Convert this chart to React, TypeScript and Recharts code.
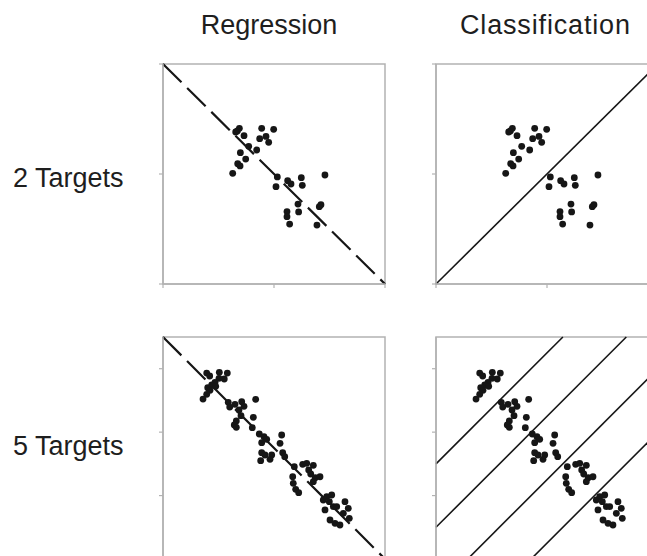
import React from "react";
import { ScatterChart, Scatter, XAxis, YAxis, ReferenceLine, ReferenceArea } from "recharts";

// two targets: one cloud on each side of the boundary
const TWO_X = [
  0.67, 0.688, 0.655, 0.73, 0.889, 0.997, 0.871, 0.928, 0.952, 0.772, 0.844, 0.697, 0.745, 0.673, 0.694, 0.628,
  1.03, 1.018, 1.123, 1.153, 1.246, 1.255, 1.459, 1.216, 1.222, 1.117, 1.117, 1.141, 1.408, 1.423, 1.387,
];
const TWO_Y = [
  1.391, 1.415, 1.382, 1.348, 1.415, 1.406, 1.321, 1.342, 1.288, 1.252, 1.218, 1.194, 1.136, 1.094, 1.073, 1.006,
  0.973, 0.885, 0.939, 0.909, 0.967, 0.897, 0.991, 0.727, 0.655, 0.658, 0.612, 0.545, 0.703, 0.721, 0.536,
];

// five targets: five clouds along the diagonal
const FIVE_X = [
  0.689, 0.736, 0.888, 1.014, 0.966, 0.883, 0.82, 0.768, 0.705, 0.741, 0.689, 0.631, 0.831,
  1.029, 1.052, 1.135, 1.241, 1.277, 1.198, 1.23, 1.156, 1.124, 1.156, 1.461, 1.424, 1.408,
  1.518, 1.592, 1.635, 1.556, 1.871, 1.845, 1.556, 1.608, 1.714, 1.687, 1.54, 1.887, 1.919,
  2.07, 2.202, 2.266, 2.37, 2.297, 2.329, 2.401, 2.475, 2.37, 2.045, 2.054, 2.092, 2.139,
  2.527, 2.581, 2.66, 2.622, 2.685, 2.554, 2.633, 2.712, 2.79, 2.869, 2.921, 2.843, 2.937, 2.739,
];
const FIVE_Y = [
  2.932, 2.885, 2.943, 2.932, 2.838, 2.849, 2.786, 2.743, 2.701, 2.66, 2.597, 2.522, 2.723,
  2.47, 2.396, 2.439, 2.48, 2.407, 2.349, 2.259, 2.176, 2.113, 2.076, 2.518, 2.234, 2.07,
  1.971, 1.928, 1.887, 1.834, 1.955, 1.824, 1.676, 1.64, 1.64, 1.572, 1.55, 1.676, 1.613,
  1.455, 1.493, 1.509, 1.477, 1.403, 1.34, 1.282, 1.297, 1.219, 1.297, 1.193, 1.099, 1.045,
  0.93, 0.982, 1.009, 0.903, 0.825, 0.773, 0.615, 0.563, 0.536, 0.903, 0.799, 0.72, 0.642, 0.825,
];

const TWO_MAX = 2;
const FIVE_MAX = 3.5;
const TWO_TICKS = [0, 1, 2];
const FIVE_TICKS = [0, 1, 2, 3];
// class boundaries as offsets of y = x + c
const TWO_BOUNDARIES = [0];
const FIVE_BOUNDARIES = [1.5, 0.5, -0.5, -1.5];

const zip = (xs: number[], ys: number[]) => xs.map((x, i) => ({ x, y: ys[i] }));
const twoPoints = zip(TWO_X, TWO_Y);
const fivePoints = zip(FIVE_X, FIVE_Y);

const FONT = "'Liberation Sans', Arial, sans-serif";
const BORDER = "#b2b2b2";
const INK = "#161616";
const PAD = 10;
const AXIS = 1; // axes need a non-zero size or recharts skips them

const Dot = (p: any) => <circle cx={p.cx} cy={p.cy} r={3.4} fill={INK} />;
// tick marks only, no labels
const NoLabel = () => <g />;

type PanelProps = {
  points: { x: number; y: number }[];
  max: number;
  ticks: number[];
  kind: "regression" | "classification";
  boundaries: number[];
  left: number;
  top: number;
  w: number;
  h: number;
};

const Panel = ({ points, max, ticks, kind, boundaries, left, top, w, h }: PanelProps) => {
  const segments =
    kind === "regression"
      ? [[{ x: 0, y: max }, { x: max, y: 0 }]]
      : boundaries.map((c) =>
          c >= 0
            ? [{ x: 0, y: c }, { x: max - c, y: max }]
            : [{ x: -c, y: 0 }, { x: max, y: max + c }]
        );

  return (
    <div style={{ position: "absolute", left: left - PAD, top: top - PAD }}>
      <ScatterChart
        width={w + 2 * PAD}
        height={h + 2 * PAD}
        margin={{ top: PAD, right: PAD, bottom: PAD - AXIS, left: PAD - AXIS }}
      >
        <XAxis
          type="number"
          dataKey="x"
          domain={[0, max]}
          ticks={ticks}
          allowDataOverflow
          height={AXIS}
          tick={NoLabel}
          tickSize={4}
          tickLine={{ stroke: BORDER, strokeWidth: 1.2 }}
          axisLine={{ stroke: BORDER, strokeWidth: 1.5 }}
        />
        <YAxis
          type="number"
          dataKey="y"
          domain={[0, max]}
          ticks={ticks}
          allowDataOverflow
          width={AXIS}
          tick={NoLabel}
          tickSize={4}
          tickLine={{ stroke: BORDER, strokeWidth: 1.2 }}
          axisLine={{ stroke: BORDER, strokeWidth: 1.5 }}
        />
        <ReferenceArea
          x1={0}
          x2={max}
          y1={0}
          y2={max}
          ifOverflow="visible"
          fill="none"
          fillOpacity={0}
          stroke={BORDER}
          strokeWidth={1.5}
        />
        {segments.map((s, i) => (
          <ReferenceLine
            key={i}
            segment={s}
            stroke={INK}
            strokeWidth={kind === "regression" ? 2.2 : 1.6}
            strokeDasharray={kind === "regression" ? "26 8" : undefined}
          />
        ))}
        <Scatter data={points} isAnimationActive={false} shape={Dot} />
      </ScatterChart>
    </div>
  );
};

export default function App() {
  return (
    <div
      style={{
        position: "absolute",
        left: 0,
        top: 0,
        width: 647,
        height: 556,
        overflow: "hidden",
        background: "#fff",
      }}
    >
      <svg width={647} height={556} style={{ position: "absolute", left: 0, top: 0 }}>
        <g fontFamily={FONT} fontSize={27} fill="#1e1e1e">
          <text x={269} y={34} textAnchor="middle">Regression</text>
          <text x={545} y={34} textAnchor="middle" textLength={170} lengthAdjust="spacing">
            Classification
          </text>
          <text x={13} y={187}>2 Targets</text>
          <text x={13} y={455}>5 Targets</text>
        </g>
      </svg>
      <Panel points={twoPoints} max={TWO_MAX} ticks={TWO_TICKS} kind="regression" boundaries={TWO_BOUNDARIES} left={163} top={64} w={222} h={220} />
      <Panel points={twoPoints} max={TWO_MAX} ticks={TWO_TICKS} kind="classification" boundaries={TWO_BOUNDARIES} left={436} top={64} w={222} h={220} />
      <Panel points={fivePoints} max={FIVE_MAX} ticks={FIVE_TICKS} kind="regression" boundaries={FIVE_BOUNDARIES} left={163} top={337} w={222} h={222} />
      <Panel points={fivePoints} max={FIVE_MAX} ticks={FIVE_TICKS} kind="classification" boundaries={FIVE_BOUNDARIES} left={436} top={337} w={222} h={222} />
    </div>
  );
}
